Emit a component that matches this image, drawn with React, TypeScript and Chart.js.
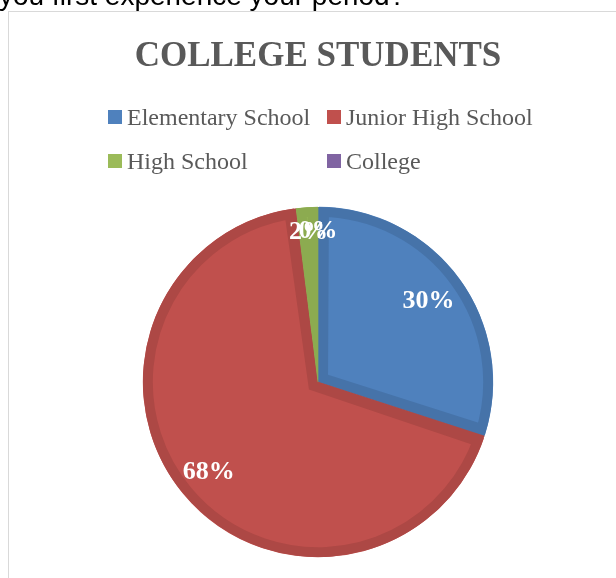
import React, { useEffect, useRef } from "react";
import { Chart, registerables } from "chart.js";

Chart.register(...registerables);

const categories = ["Elementary School", "Junior High School", "High School", "College"];
const values = [30, 68, 2, 0];
const fillColors = ["#4f81bd", "#c0504d", "#9bbb59", "#8064a2"];
const borderColors = ["#4673a9", "#ad4845", "#8cab50", "#725a91"];
const titleText = "COLLEGE STUDENTS";
const questionText = "you first experience your period?";

const SERIF = "'Liberation Serif', 'DejaVu Serif', serif";

const decorPlugin = {
  id: "decor",
  afterDraw(chart: any) {
    const ctx = chart.ctx as CanvasRenderingContext2D;
    ctx.save();
    // title
    ctx.font = `bold 35px ${SERIF}`;
    ctx.fillStyle = "#595959";
    ctx.textAlign = "center";
    ctx.textBaseline = "alphabetic";
    ctx.fillText(titleText, 318, 66);

    // legend in a two-column grid
    const labels: string[] = chart.data.labels;
    const ds = chart.data.datasets[0];
    const colX = [108, 327];
    const rowY = [110, 154];
    ctx.font = `24px ${SERIF}`;
    ctx.textAlign = "left";
    labels.forEach((lab, i) => {
      const x = colX[i % 2];
      const y = rowY[Math.floor(i / 2)];
      ctx.fillStyle = ds.backgroundColor[i];
      ctx.fillRect(x, y, 14, 14);
      ctx.fillStyle = "#595959";
      ctx.fillText(lab, x + 19, y + 15);
    });
    ctx.restore();
  },
};

const labelPlugin = {
  id: "sliceLabels",
  afterDatasetsDraw(chart: any) {
    const ctx = chart.ctx as CanvasRenderingContext2D;
    const meta = chart.getDatasetMeta(0);
    const data: number[] = chart.data.datasets[0].data;
    const total = data.reduce((a, b) => a + b, 0);
    const factors = [0.78, 0.81, 0.86, 0.86];
    ctx.save();
    ctx.font = `bold 26px ${SERIF}`;
    ctx.fillStyle = "#ffffff";
    ctx.textAlign = "center";
    ctx.textBaseline = "middle";
    meta.data.forEach((arc: any, i: number) => {
      const { x, y, startAngle, endAngle, outerRadius } = arc.getProps(
        ["x", "y", "startAngle", "endAngle", "outerRadius"],
        true
      );
      const mid = (startAngle + endAngle) / 2;
      const r = outerRadius * factors[i];
      const pct = Math.round((data[i] / total) * 100) + "%";
      ctx.fillText(pct, x + Math.cos(mid) * r, y + Math.sin(mid) * r);
    });
    ctx.restore();
  },
};

export default function App() {
  const canvasRef = useRef<HTMLCanvasElement | null>(null);

  useEffect(() => {
    if (!canvasRef.current) return;
    const chart = new Chart(canvasRef.current, {
      type: "pie",
      data: {
        labels: categories,
        datasets: [
          {
            data: values,
            backgroundColor: fillColors,
            borderColor: borderColors,
            borderWidth: 10,
            borderAlign: "inner",
            borderJoinStyle: "miter",
            spacing: 1,
          } as any,
        ],
      },
      options: {
        animation: false,
        responsive: false,
        devicePixelRatio: 1,
        radius: 175,
        layout: { padding: { top: 186, left: 20, right: 0, bottom: 0 } },
        plugins: {
          legend: { display: false },
          title: { display: false },
          tooltip: { enabled: false },
        },
      } as any,
      plugins: [labelPlugin, decorPlugin],
    });
    return () => chart.destroy();
  }, []);

  return (
    <div>
      <div
        style={{
          position: "fixed",
          left: -1,
          top: -18,
          font: "28px 'Liberation Sans', Arial, sans-serif",
          lineHeight: "28px",
          color: "#000",
          whiteSpace: "nowrap",
        }}
      >
        {questionText}
      </div>
      <div
        style={{
          position: "fixed",
          left: 8,
          top: 11,
          width: 700,
          height: 700,
          borderLeft: "1px solid #d9d9d9",
          borderTop: "1px solid #d9d9d9",
          background: "#fff",
        }}
      />
      <canvas
        ref={canvasRef}
        width={616}
        height={578}
        style={{ position: "fixed", left: 0, top: 0, width: 616, height: 578 }}
      />
    </div>
  );
}
